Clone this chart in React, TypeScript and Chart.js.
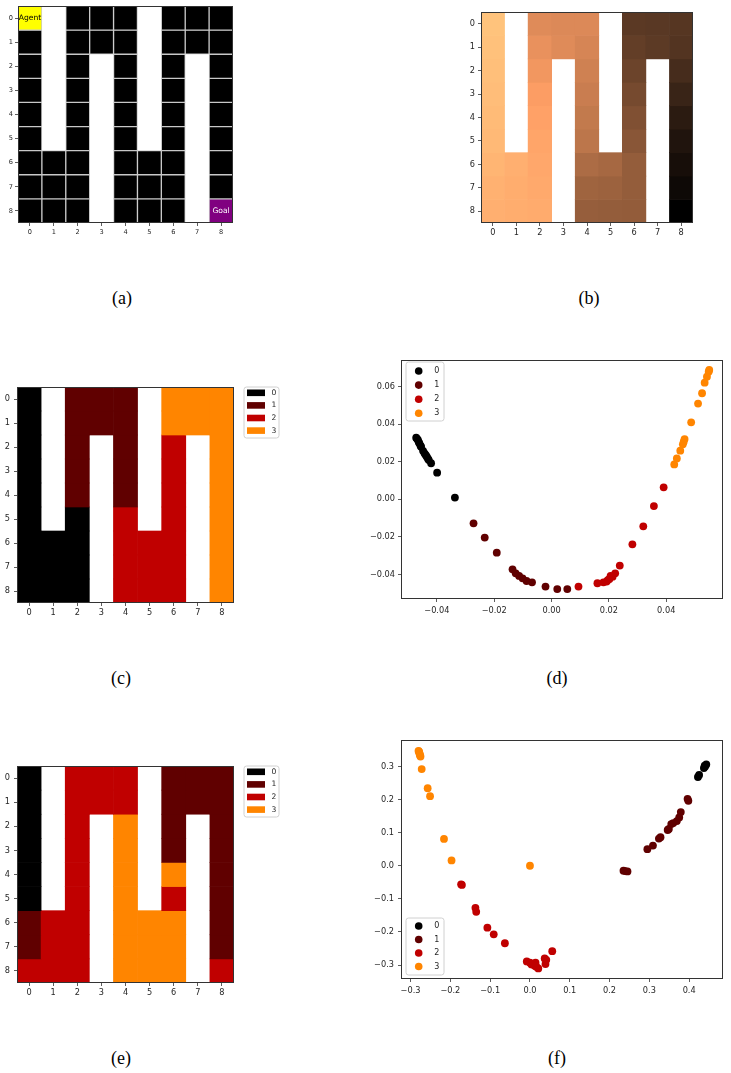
import React, { useEffect, useRef } from 'react';
import { Chart, registerables } from 'chart.js';
Chart.register(...registerables);

// ---------- data ----------
const GRID_COLS = ['0', '1', '2', '3', '4', '5', '6', '7', '8'];
const GRID_ROWS = [0, 1, 2, 3, 4, 5, 6, 7, 8];

// maze: 0 free, 1 wall, 2 agent, 3 goal
const MAZE: number[][] = [
  [2, 1, 0, 0, 0, 1, 0, 0, 0],
  [0, 1, 0, 0, 0, 1, 0, 0, 0],
  [0, 1, 0, 1, 0, 1, 0, 1, 0],
  [0, 1, 0, 1, 0, 1, 0, 1, 0],
  [0, 1, 0, 1, 0, 1, 0, 1, 0],
  [0, 1, 0, 1, 0, 1, 0, 1, 0],
  [0, 0, 0, 1, 0, 0, 0, 1, 0],
  [0, 0, 0, 1, 0, 0, 0, 1, 0],
  [0, 0, 0, 1, 0, 0, 0, 1, 3],
];
const MAZE_LABELS = [
  { row: 0, col: 0, text: 'Agent', color: '#000000' },
  { row: 8, col: 8, text: 'Goal', color: '#ffffff' },
];

// panel (b): value per cell (null = wall)
const VALUES: (number | null)[][] = [
  [0.98, null, 0.70, 0.69, 0.69, null, 0.285, 0.28, 0.27],
  [0.97, null, 0.73, 0.70, 0.67, null, 0.31, 0.29, 0.26],
  [0.96, null, 0.76, null, 0.65, null, 0.34, null, 0.22],
  [0.95, null, 0.79, null, 0.63, null, 0.37, null, 0.18],
  [0.94, null, 0.81, null, 0.61, null, 0.40, null, 0.135],
  [0.93, null, 0.83, null, 0.59, null, 0.43, null, 0.10],
  [0.91, 0.88, 0.84, null, 0.54, 0.52, 0.465, null, 0.072],
  [0.89, 0.87, 0.85, null, 0.50, 0.49, 0.465, null, 0.045],
  [0.88, 0.87, 0.86, null, 0.47, 0.465, 0.46, null, 0.0],
];

const CLASS_LABELS = ['0', '1', '2', '3'];
const CLASS_COLORS = ['#000000', '#600000', '#c00000', '#ff8500'];

const CLUSTERS_C: (number | null)[][] = [
  [0, null, 1, 1, 1, null, 3, 3, 3],
  [0, null, 1, 1, 1, null, 3, 3, 3],
  [0, null, 1, null, 1, null, 2, null, 3],
  [0, null, 1, null, 1, null, 2, null, 3],
  [0, null, 1, null, 1, null, 2, null, 3],
  [0, null, 0, null, 2, null, 2, null, 3],
  [0, 0, 0, null, 2, 2, 2, null, 3],
  [0, 0, 0, null, 2, 2, 2, null, 3],
  [0, 0, 0, null, 2, 2, 2, null, 3],
];

const CLUSTERS_E: (number | null)[][] = [
  [0, null, 2, 2, 2, null, 1, 1, 1],
  [0, null, 2, 2, 2, null, 1, 1, 1],
  [0, null, 2, null, 3, null, 1, null, 1],
  [0, null, 2, null, 3, null, 1, null, 1],
  [0, null, 2, null, 3, null, 3, null, 1],
  [0, null, 2, null, 3, null, 2, null, 1],
  [1, 2, 2, null, 3, 3, 3, null, 1],
  [1, 2, 2, null, 3, 3, 3, null, 1],
  [2, 2, 2, null, 3, 3, 3, null, 2],
];

// panel (d) embedding, one list per class
const D_CLASS0 = [
  [-0.0472, 0.0328], [-0.0469, 0.0322], [-0.0466, 0.0316], [-0.0463, 0.0305],
  [-0.0461, 0.0298], [-0.0457, 0.0286], [-0.0455, 0.028], [-0.0448, 0.0258],
  [-0.0443, 0.0245], [-0.0439, 0.0236], [-0.0435, 0.0227], [-0.0431, 0.0216],
  [-0.0428, 0.0209], [-0.042, 0.0192], [-0.0399, 0.0142], [-0.0337, 0.0009],
];
const D_CLASS1 = [
  [-0.0272, -0.0128], [-0.0233, -0.0204], [-0.0191, -0.0284], [-0.0136, -0.0373],
  [-0.0125, -0.0394], [-0.0113, -0.0408], [-0.0101, -0.0421], [-0.0087, -0.0435],
  [-0.0068, -0.0442], [-0.0021, -0.0465], [0.002, -0.0478], [0.0055, -0.0478],
];
const D_CLASS2 = [
  [0.0094, -0.0465], [0.016, -0.0447], [0.0181, -0.0442], [0.0192, -0.0438],
  [0.0196, -0.043], [0.0202, -0.0424], [0.0206, -0.0408], [0.0213, -0.0412],
  [0.0222, -0.0394], [0.0238, -0.0353], [0.0282, -0.024], [0.032, -0.0144],
  [0.0357, -0.0036], [0.0391, 0.0064],
];
const D_CLASS3 = [
  [0.0428, 0.0186], [0.0437, 0.0218], [0.0449, 0.0259], [0.0458, 0.0293],
  [0.0461, 0.0307], [0.0464, 0.0321], [0.0487, 0.041], [0.0511, 0.051],
  [0.0525, 0.0565], [0.0534, 0.0621], [0.0542, 0.0653], [0.0548, 0.068],
  [0.055, 0.0689],
];

// panel (f) embedding
const F_CLASS0 = [
  [0.443, 0.306], [0.44, 0.3], [0.437, 0.295], [0.439, 0.302], [0.425, 0.274], [0.422, 0.268],
];
const F_CLASS1 = [
  [0.235, -0.015], [0.239, -0.016], [0.245, -0.017], [0.295, 0.05], [0.309, 0.061],
  [0.324, 0.082], [0.328, 0.086], [0.346, 0.108], [0.349, 0.111], [0.355, 0.126],
  [0.36, 0.129], [0.369, 0.135], [0.375, 0.146], [0.379, 0.162], [0.396, 0.202], [0.398, 0.196],
];
const F_CLASS2 = [
  [-0.173, -0.056], [-0.171, -0.058], [-0.137, -0.127], [-0.135, -0.139], [-0.107, -0.187],
  [-0.091, -0.207], [-0.063, -0.234], [-0.008, -0.289], [0.0, -0.293], [0.004, -0.298],
  [0.008, -0.298], [0.014, -0.293], [0.016, -0.305], [0.012, -0.302], [0.021, -0.31],
  [0.037, -0.28], [0.041, -0.284], [0.039, -0.297], [0.056, -0.258],
];
const F_CLASS3 = [
  [-0.28, 0.347], [-0.279, 0.345], [-0.278, 0.342], [-0.277, 0.337], [-0.275, 0.33],
  [-0.276, 0.333], [-0.272, 0.292], [-0.257, 0.234], [-0.251, 0.21], [-0.216, 0.081],
  [-0.197, 0.016], [0.0, 0.0],
];

const D_XTICKS = [-0.04, -0.02, 0.0, 0.02, 0.04];
const D_YTICKS = [-0.04, -0.02, 0.0, 0.02, 0.04, 0.06];
const F_XTICKS = [-0.3, -0.2, -0.1, 0.0, 0.1, 0.2, 0.3, 0.4];
const F_YTICKS = [-0.3, -0.2, -0.1, 0.0, 0.1, 0.2, 0.3];

const CAPTIONS = [
  { text: '(a)', x: 122, y: 298 },
  { text: '(b)', x: 589, y: 298 },
  { text: '(c)', x: 121, y: 678 },
  { text: '(d)', x: 557, y: 678 },
  { text: '(e)', x: 121, y: 1058 },
  { text: '(f)', x: 557, y: 1058 },
];

// ---------- helpers ----------
const FONT = 'DejaVu Sans';
const TICK_COLOR = '#262626';
const SPINE_COLOR = '#333333';

function copper(v: number): string {
  const r = Math.min(1, 1.25 * v) * 255;
  const g = 0.7812 * v * 255;
  const b = 0.4975 * v * 255;
  return `rgb(${Math.round(r)},${Math.round(g)},${Math.round(b)})`;
}

function fmt(v: number, d: number): string {
  const s = Math.abs(v).toFixed(d);
  return (v < -1e-12 ? '\u2212' : '') + s;
}

const spinePlugin = {
  id: 'spines',
  afterDatasetsDraw(chart: any) {
    const { ctx, chartArea: a } = chart;
    ctx.save();
    ctx.strokeStyle = SPINE_COLOR;
    ctx.lineWidth = 1;
    ctx.strokeRect(Math.round(a.left) + 0.5, Math.round(a.top) + 0.5, Math.round(a.right - a.left) - 1, Math.round(a.bottom - a.top) - 1);
    ctx.restore();
  },
};

function cellTextPlugin(labels: { row: number; col: number; text: string; color: string }[]) {
  return {
    id: 'cellText',
    afterDatasetsDraw(chart: any) {
      const { ctx } = chart;
      const xs = chart.scales.x;
      const ys = chart.scales.y;
      ctx.save();
      ctx.font = `7.6px "${FONT}"`;
      ctx.textAlign = 'center';
      ctx.textBaseline = 'middle';
      labels.forEach((l) => {
        ctx.fillStyle = l.color;
        ctx.fillText(l.text, xs.getPixelForValue(l.col), ys.getPixelForValue(l.row));
      });
      ctx.restore();
    },
  };
}

type LegendSpec = {
  anchor: 'outside' | 'topleft' | 'bottomleft';
  dx: number;
  dy: number;
  w: number;
  h: number;
  firstY: number;
  rowH: number;
  markerX: number;
  labelX: number;
  shape: 'rect' | 'circle';
  fontSize: number;
};

function legendPlugin(spec: LegendSpec) {
  return {
    id: 'mplLegend',
    afterDraw(chart: any) {
      const { ctx, chartArea: a } = chart;
      const left = spec.anchor === 'outside' ? a.right + spec.dx : a.left + spec.dx;
      const top = spec.anchor === 'bottomleft' ? a.bottom - spec.dy - spec.h : a.top + spec.dy;
      ctx.save();
      const r = 2.5;
      ctx.beginPath();
      ctx.moveTo(left + r, top);
      ctx.lineTo(left + spec.w - r, top);
      ctx.quadraticCurveTo(left + spec.w, top, left + spec.w, top + r);
      ctx.lineTo(left + spec.w, top + spec.h - r);
      ctx.quadraticCurveTo(left + spec.w, top + spec.h, left + spec.w - r, top + spec.h);
      ctx.lineTo(left + r, top + spec.h);
      ctx.quadraticCurveTo(left, top + spec.h, left, top + spec.h - r);
      ctx.lineTo(left, top + r);
      ctx.quadraticCurveTo(left, top, left + r, top);
      ctx.closePath();
      ctx.fillStyle = 'rgba(255,255,255,0.85)';
      ctx.fill();
      ctx.strokeStyle = '#d0d0d0';
      ctx.lineWidth = 1;
      ctx.stroke();
      CLASS_LABELS.forEach((lab, i) => {
        const cy = top + spec.firstY + i * spec.rowH;
        ctx.fillStyle = CLASS_COLORS[i];
        if (spec.shape === 'circle') {
          ctx.beginPath();
          ctx.arc(left + spec.markerX, cy, 3.8, 0, Math.PI * 2);
          ctx.fill();
        } else {
          ctx.fillRect(left + spec.markerX - 9, cy - 3.3, 18, 6.6);
        }
        ctx.fillStyle = TICK_COLOR;
        ctx.font = `${spec.fontSize}px "${FONT}"`;
        ctx.textAlign = 'left';
        ctx.textBaseline = 'middle';
        ctx.fillText(lab, left + spec.labelX, cy);
      });
      ctx.restore();
    },
  };
}

type Box = { left: number; top: number; right: number; bottom: number };

type PanelGeom = {
  area: Box; // chart area in page coords
  axisW: number;
  axisH: number;
  padTop: number;
  padRight: number;
};

function canvasRect(g: PanelGeom) {
  const left = g.area.left - g.axisW;
  const top = g.area.top - g.padTop;
  const width = g.area.right - left + g.padRight;
  const height = g.area.bottom - top + g.axisH;
  return { left, top, width, height };
}

function axisCommon(fontSize: number, pad: number, fitKey: 'width' | 'height', fitVal: number) {
  return {
    grid: { display: true, drawOnChartArea: false, drawTicks: true, tickLength: 3, tickColor: SPINE_COLOR, tickWidth: 0.8, offset: false },
    border: { display: false },
    ticks: { font: { family: FONT, size: fontSize }, color: TICK_COLOR, padding: pad, maxRotation: 0, autoSkip: false },
    afterFit: (s: any) => {
      s[fitKey] = fitVal;
    },
  };
}

type HeatSpec = {
  geom: PanelGeom;
  cellColor: (r: number, c: number) => string | null;
  border: boolean;
  fontSize: number;
  xPad: number;
  yPad: number;
  extraPlugins: any[];
};

function buildHeat(canvas: HTMLCanvasElement, spec: HeatSpec) {
  const { geom } = spec;
  const xa = axisCommon(spec.fontSize, spec.xPad, 'height', geom.axisH);
  const ya = axisCommon(spec.fontSize, spec.yPad, 'width', geom.axisW);
  const datasets = GRID_ROWS.map((r) => {
    const colors = GRID_COLS.map((_, c) => spec.cellColor(r, c) || '#ffffff');
    return {
      data: GRID_COLS.map((_, c) => (spec.cellColor(r, c) === null ? null : [r - 0.5, r + 0.5])),
      backgroundColor: colors,
      borderColor: spec.border ? '#c8c8c8' : colors,
      borderWidth: spec.border ? 1 : 0,
      borderSkipped: false,
      grouped: false,
      barPercentage: 1,
      categoryPercentage: 1,
    };
  });
  return new Chart(canvas, {
    type: 'bar',
    data: { labels: GRID_COLS, datasets: datasets as any },
    options: {
      animation: false,
      responsive: false,
      devicePixelRatio: 1,
      layout: { padding: { top: geom.padTop, right: geom.padRight, left: 0, bottom: 0 } },
      plugins: { legend: { display: false }, tooltip: { enabled: false } },
      scales: {
        x: { type: 'category', offset: true, ...xa } as any,
        y: {
          type: 'linear',
          reverse: true,
          min: -0.5,
          max: 8.5,
          ...ya,
          afterBuildTicks: (s: any) => {
            s.ticks = GRID_ROWS.map((v) => ({ value: v }));
          },
          ticks: { ...ya.ticks, callback: (v: any) => String(v) },
        } as any,
      },
    },
    plugins: [spinePlugin, ...spec.extraPlugins],
  });
}

type ScatterSpec = {
  geom: PanelGeom;
  classes: number[][][];
  xMin: number;
  xMax: number;
  yMin: number;
  yMax: number;
  xTicks: number[];
  yTicks: number[];
  dec: number;
  fontSize: number;
  xPad: number;
  yPad: number;
  legend: LegendSpec;
};

function buildScatter(canvas: HTMLCanvasElement, spec: ScatterSpec) {
  const { geom } = spec;
  const xa = axisCommon(spec.fontSize, spec.xPad, 'height', geom.axisH);
  const ya = axisCommon(spec.fontSize, spec.yPad, 'width', geom.axisW);
  return new Chart(canvas, {
    type: 'scatter',
    data: {
      datasets: spec.classes.map((pts, i) => ({
        label: CLASS_LABELS[i],
        data: pts.map(([x, y]) => ({ x, y })),
        backgroundColor: CLASS_COLORS[i],
        borderWidth: 0,
        pointRadius: 3.9,
        pointHoverRadius: 3.9,
        order: spec.classes.length - i,
      })),
    },
    options: {
      animation: false,
      responsive: false,
      devicePixelRatio: 1,
      layout: { padding: { top: geom.padTop, right: geom.padRight, left: 0, bottom: 0 } },
      plugins: { legend: { display: false }, tooltip: { enabled: false } },
      scales: {
        x: {
          type: 'linear',
          min: spec.xMin,
          max: spec.xMax,
          ...xa,
          afterBuildTicks: (s: any) => {
            s.ticks = spec.xTicks.map((v) => ({ value: v }));
          },
          ticks: { ...xa.ticks, callback: (v: any) => fmt(Number(v), spec.dec) },
        } as any,
        y: {
          type: 'linear',
          min: spec.yMin,
          max: spec.yMax,
          ...ya,
          afterBuildTicks: (s: any) => {
            s.ticks = spec.yTicks.map((v) => ({ value: v }));
          },
          ticks: { ...ya.ticks, callback: (v: any) => fmt(Number(v), spec.dec) },
        } as any,
      },
    },
    plugins: [spinePlugin, legendPlugin(spec.legend)],
  });
}

// ---------- panels ----------
const GEOM_A: PanelGeom = { area: { left: 18, top: 6, right: 233, bottom: 223 }, axisW: 18, axisH: 20, padTop: 6, padRight: 6 };
const GEOM_B: PanelGeom = { area: { left: 481, top: 12, right: 693, bottom: 223 }, axisW: 20, axisH: 22, padTop: 10, padRight: 10 };
const GEOM_C: PanelGeom = { area: { left: 17, top: 387, right: 234, bottom: 603 }, axisW: 17, axisH: 22, padTop: 10, padRight: 56 };
const GEOM_D: PanelGeom = { area: { left: 401, top: 360, right: 723, bottom: 599 }, axisW: 48, axisH: 22, padTop: 8, padRight: 6 };
const GEOM_E: PanelGeom = { area: { left: 17, top: 766, right: 234, bottom: 983 }, axisW: 17, axisH: 22, padTop: 10, padRight: 56 };
const GEOM_F: PanelGeom = { area: { left: 401, top: 739, right: 723, bottom: 979 }, axisW: 48, axisH: 22, padTop: 8, padRight: 6 };

const LEGEND_OUT: LegendSpec = { anchor: 'outside', dx: 10, dy: 0, w: 35, h: 51, firstY: 5.8, rowH: 12.6, markerX: 12, labelX: 27.5, shape: 'rect', fontSize: 7.6 };
const LEGEND_D: LegendSpec = { anchor: 'topleft', dx: 5, dy: 2, w: 38, h: 59, firstY: 9, rowH: 14.1, markerX: 12.7, labelX: 28.3, shape: 'circle', fontSize: 8 };
const LEGEND_F: LegendSpec = { anchor: 'bottomleft', dx: 5, dy: 4, w: 38, h: 57, firstY: 8, rowH: 13.5, markerX: 12.7, labelX: 28.3, shape: 'circle', fontSize: 8 };

function Panel({ geom, build }: { geom: PanelGeom; build: (c: HTMLCanvasElement) => Chart }) {
  const ref = useRef<HTMLCanvasElement | null>(null);
  const rect = canvasRect(geom);
  useEffect(() => {
    if (!ref.current) return;
    const chart = build(ref.current);
    return () => chart.destroy();
  }, []);
  return (
    <canvas
      ref={ref}
      width={rect.width}
      height={rect.height}
      style={{ position: 'absolute', left: rect.left, top: rect.top, width: rect.width, height: rect.height }}
    />
  );
}

export default function App() {
  return (
    <div style={{ position: 'absolute', left: 0, top: 0, width: 731, height: 1073, background: '#ffffff', overflow: 'hidden' }}>
      <Panel
        geom={GEOM_A}
        build={(c) =>
          buildHeat(c, {
            geom: GEOM_A,
            cellColor: (r, col) => {
              const v = MAZE[r][col];
              if (v === 1) return null;
              if (v === 2) return '#ffff00';
              if (v === 3) return '#800080';
              return '#000000';
            },
            border: true,
            fontSize: 6.6,
            xPad: 2,
            yPad: 2,
            extraPlugins: [cellTextPlugin(MAZE_LABELS)],
          })
        }
      />
      <Panel
        geom={GEOM_B}
        build={(c) =>
          buildHeat(c, {
            geom: GEOM_B,
            cellColor: (r, col) => {
              const v = VALUES[r][col];
              return v === null ? null : copper(v);
            },
            border: false,
            fontSize: 8.2,
            xPad: 2,
            yPad: 3,
            extraPlugins: [],
          })
        }
      />
      <Panel
        geom={GEOM_C}
        build={(c) =>
          buildHeat(c, {
            geom: GEOM_C,
            cellColor: (r, col) => {
              const v = CLUSTERS_C[r][col];
              return v === null ? null : CLASS_COLORS[v];
            },
            border: false,
            fontSize: 8.2,
            xPad: 2,
            yPad: 4,
            extraPlugins: [legendPlugin(LEGEND_OUT)],
          })
        }
      />
      <Panel
        geom={GEOM_D}
        build={(c) =>
          buildScatter(c, {
            geom: GEOM_D,
            classes: [D_CLASS0, D_CLASS1, D_CLASS2, D_CLASS3],
            xMin: -0.0525,
            xMax: 0.0598,
            yMin: -0.0531,
            yMax: 0.0742,
            xTicks: D_XTICKS,
            yTicks: D_YTICKS,
            dec: 2,
            fontSize: 8.2,
            xPad: 4,
            yPad: 3,
            legend: LEGEND_D,
          })
        }
      />
      <Panel
        geom={GEOM_E}
        build={(c) =>
          buildHeat(c, {
            geom: GEOM_E,
            cellColor: (r, col) => {
              const v = CLUSTERS_E[r][col];
              return v === null ? null : CLASS_COLORS[v];
            },
            border: false,
            fontSize: 8.2,
            xPad: 2,
            yPad: 4,
            extraPlugins: [legendPlugin(LEGEND_OUT)],
          })
        }
      />
      <Panel
        geom={GEOM_F}
        build={(c) =>
          buildScatter(c, {
            geom: GEOM_F,
            classes: [F_CLASS0, F_CLASS1, F_CLASS2, F_CLASS3],
            xMin: -0.324,
            xMax: 0.485,
            yMin: -0.342,
            yMax: 0.38,
            xTicks: F_XTICKS,
            yTicks: F_YTICKS,
            dec: 1,
            fontSize: 8.2,
            xPad: 4,
            yPad: 4,
            legend: LEGEND_F,
          })
        }
      />
      {CAPTIONS.map((cap) => (
        <div
          key={cap.text}
          style={{
            position: 'absolute',
            left: cap.x - 30,
            top: cap.y - 11,
            width: 60,
            height: 22,
            lineHeight: '22px',
            textAlign: 'center',
            fontFamily: '"Liberation Serif", serif',
            fontSize: 18,
            color: '#000',
          }}
        >
          {cap.text}
        </div>
      ))}
    </div>
  );
}
